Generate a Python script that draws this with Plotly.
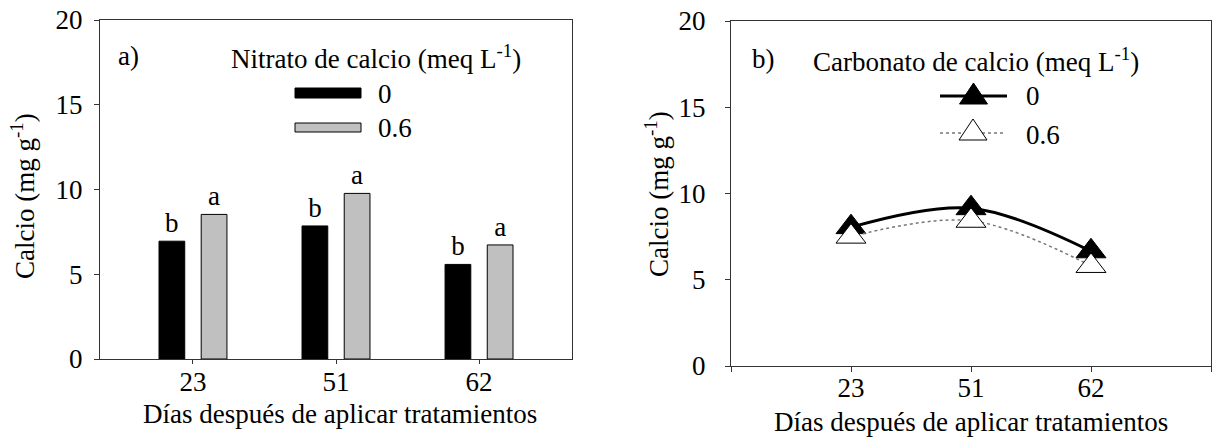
import plotly.graph_objects as go

# ---------------- data ----------------
days = ["23", "51", "62"]
nitrato_0 = [6.95, 7.85, 5.58]
nitrato_06 = [8.53, 9.77, 6.73]
letters_0 = ["b", "b", "b"]
letters_06 = ["a", "a", "a"]
carbonato_0 = [8.05, 9.15, 6.65]
carbonato_06 = [7.5, 8.42, 5.8]
y_ticks = [0, 5, 10, 15, 20]
series_names = ["0", "0.6"]

W, H = 1213, 437
FONT = "Liberation Serif"
FS = 27
AX = "#333333"


def fx(p):
    return p / W


def fy(p):
    return 1 - p / H


fig = go.Figure()

# ---- panel a: bars ----
fig.add_trace(go.Bar(
    x=days, y=nitrato_0, name=series_names[0], xaxis="x", yaxis="y",
    marker=dict(color="black", line=dict(color="black", width=1)),
    text=letters_0, textposition="outside", constraintext="none",
    textfont=dict(family=FONT, size=FS, color="black"), cliponaxis=False,
    showlegend=False,
))
fig.add_trace(go.Bar(
    x=days, y=nitrato_06, name=series_names[1], xaxis="x", yaxis="y",
    marker=dict(color="#c0c0c0", line=dict(color="black", width=1)),
    text=letters_06, textposition="outside", constraintext="none",
    textfont=dict(family=FONT, size=FS, color="black"), cliponaxis=False,
    showlegend=False,
))

# ---- panel b: lines ----
xpos = [i + 1 for i in range(len(days))]
fig.add_trace(go.Scatter(
    x=xpos, y=carbonato_0, name=series_names[0], xaxis="x2", yaxis="y2",
    mode="lines+markers", line=dict(color="black", width=3, shape="spline"),
    marker=dict(symbol="triangle-up", size=26, color="black",
                line=dict(color="black", width=1)),
    cliponaxis=False, showlegend=False,
))
fig.add_trace(go.Scatter(
    x=xpos, y=carbonato_06, name=series_names[1], xaxis="x2", yaxis="y2",
    mode="lines+markers", line=dict(color="#777777", width=1.5, dash="dot", shape="spline"),
    marker=dict(symbol="triangle-up", size=26, color="white",
                line=dict(color="black", width=1)),
    cliponaxis=False, showlegend=False,
))

axis_common = dict(showline=True, linecolor=AX, linewidth=1, mirror=True,
                   showgrid=False, zeroline=False, ticks="outside", automargin=False,
                   tickcolor=AX, tickfont=dict(family=FONT, size=FS, color="black"))

fig.update_layout(
    template="none",
    width=W, height=H, autosize=False,
    margin=dict(l=0, r=0, t=0, b=0, pad=0),
    paper_bgcolor="white", plot_bgcolor="white",
    barmode="group", bargap=0.41, bargroupgap=0.39,
    font=dict(family=FONT, size=FS, color="black"),
    xaxis=dict(domain=[fx(100), fx(572)], anchor="y", range=[-0.65, 2.65],
               type="category", ticklen=4, ticklabelstandoff=-5, **axis_common),
    yaxis=dict(domain=[fy(359), fy(20)], anchor="x", range=[0, 20],
               tickvals=y_ticks, ticklen=5, ticklabelstandoff=6, **axis_common),
    xaxis2=dict(domain=[fx(731), fx(1211)], anchor="y2", range=[0, len(days) + 1],
                tickvals=xpos, ticktext=days, ticklen=5, ticklabelstandoff=-7,
                minor=dict(tickvals=[0, len(days) + 1], ticks="outside", ticklen=5,
                           tickcolor=AX, showgrid=False),
                **axis_common),
    yaxis2=dict(domain=[fy(366), fy(21)], anchor="x2", range=[0, 20],
                tickvals=y_ticks, ticklen=5, ticklabelstandoff=14, **axis_common),
)

ann = []


def text(x, y, t, xanchor="center", angle=0, size=FS):
    ann.append(dict(x=fx(x), y=fy(y), xref="paper", yref="paper", text=t,
                    showarrow=False, xanchor=xanchor, yanchor="middle",
                    textangle=angle, font=dict(family=FONT, size=size, color="black")))


# axis titles
text(23, 196, "Calcio (mg g<sup>-1</sup>)", angle=-90)
text(657, 194, "Calcio (mg g<sup>-1</sup>)", angle=-90)
text(340, 414, "Días después de aplicar tratamientos")
text(971, 422, "Días después de aplicar tratamientos")

# panel labels + legend texts
text(116, 56, "a)", xanchor="left")
text(229, 57, "Nitrato de calcio (meq L<sup>-1</sup>)", xanchor="left")
text(376, 94, series_names[0], xanchor="left")
text(376, 128, series_names[1], xanchor="left")

text(750, 59, "b)", xanchor="left")
text(811, 60, "Carbonato de calcio (meq L<sup>-1</sup>)", xanchor="left")
text(1024, 96, series_names[0], xanchor="left")
text(1024, 135, series_names[1], xanchor="left")

fig.update_layout(annotations=ann)

# legend swatches (layout decorations)
shapes = [
    dict(type="rect", xref="paper", yref="paper", x0=fx(295), x1=fx(361),
         y0=fy(98), y1=fy(88), fillcolor="black", line=dict(color="black", width=1)),
    dict(type="rect", xref="paper", yref="paper", x0=fx(295), x1=fx(361),
         y0=fy(132), y1=fy(123), fillcolor="#c0c0c0", line=dict(color="black", width=1)),
    dict(type="line", xref="paper", yref="paper", x0=fx(940), x1=fx(1007),
         y0=fy(96), y1=fy(96), line=dict(color="black", width=3)),
    dict(type="line", xref="paper", yref="paper", x0=fx(940), x1=fx(1003),
         y0=fy(133), y1=fy(133), line=dict(color="#777777", width=1.5, dash="dot")),
]


def tri(cx, top, w, h, fill):
    path = "M {:.5f} {:.5f} L {:.5f} {:.5f} L {:.5f} {:.5f} Z".format(
        fx(cx), fy(top), fx(cx - w / 2), fy(top + h), fx(cx + w / 2), fy(top + h))
    return dict(type="path", xref="paper", yref="paper", path=path,
                fillcolor=fill, line=dict(color="black", width=1))


shapes.append(tri(973.5, 83, 28, 21, "black"))
shapes.append(tri(973, 119, 28, 21, "white"))
fig.update_layout(shapes=shapes)

fig.write_html("out.html")
